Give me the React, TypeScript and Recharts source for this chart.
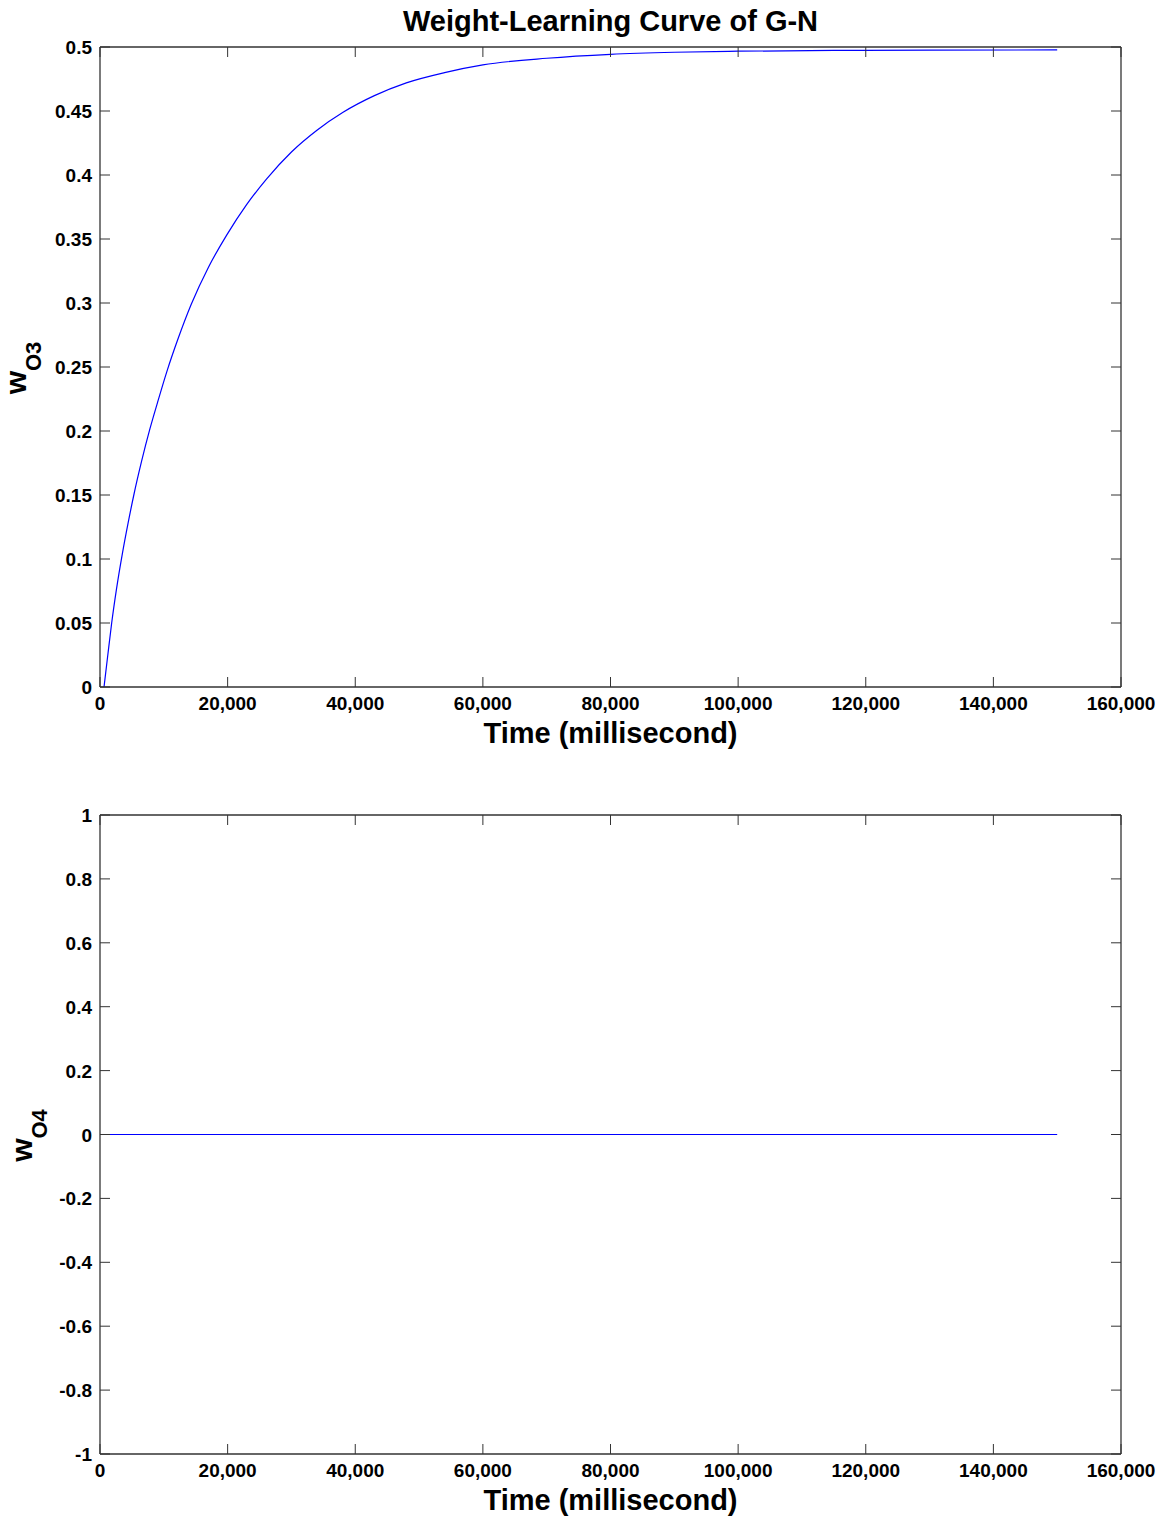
import React from 'react';
import { LineChart, Line, XAxis, YAxis } from 'recharts';

// ---- data ----
const timeTicks = [0, 20000, 40000, 60000, 80000, 100000, 120000, 140000, 160000];
const timeTickLabels = ['0', '20,000', '40,000', '60,000', '80,000', '100,000', '120,000', '140,000', '160,000'];

const wO3Ticks = [0, 0.05, 0.1, 0.15, 0.2, 0.25, 0.3, 0.35, 0.4, 0.45, 0.5];
const wO3TickLabels = ['0', '0.05', '0.1', '0.15', '0.2', '0.25', '0.3', '0.35', '0.4', '0.45', '0.5'];

const wO4Ticks = [-1, -0.8, -0.6, -0.4, -0.2, 0, 0.2, 0.4, 0.6, 0.8, 1];
const wO4TickLabels = ['-1', '-0.8', '-0.6', '-0.4', '-0.2', '0', '0.2', '0.4', '0.6', '0.8', '1'];

const o3Time = [630, 1200, 1830, 2600, 3500, 4400, 5300, 6500, 7840, 9000, 10450, 12300, 14300, 17000, 19850, 23000, 26120, 30000, 34000, 38090, 43000, 48000, 54000, 60000, 70000, 80000, 90000, 100000, 115000, 130000, 150000];
const o3Weight = [0, 0.024, 0.05, 0.077, 0.104, 0.128, 0.15, 0.176, 0.202, 0.222, 0.246, 0.273, 0.299, 0.328, 0.353, 0.377, 0.397, 0.418, 0.435, 0.449, 0.462, 0.472, 0.48, 0.486, 0.4912, 0.4943, 0.4959, 0.4967, 0.4973, 0.4976, 0.4977];

const o4Time = [0, 150000];
const o4Weight = [0, 0];

const title = 'Weight-Learning Curve of G-N';
const xLabel = 'Time (millisecond)';

// ---- tables for the library ----
const o3Data = o3Time.map((t, i) => ({ t, w: o3Weight[i] }));
const o4Data = o4Time.map((t, i) => ({ t, w: o4Weight[i] }));

const AXIS = '#333333';
const FONT = '"Liberation Sans", Arial, sans-serif';
const TICK_LEN = 10;

const labelFor = (ticks: number[], labels: string[], v: number, idx?: number) => {
  let i = ticks.findIndex((x) => Math.abs(x - v) < 1e-9);
  if (i < 0 && idx !== undefined) i = idx;
  return labels[i] ?? String(v);
};

const bottomTick = (ticks: number[], labels: string[]) => (props: any) => {
  const { x, y, payload } = props;
  return (
    <text x={x} y={y + 23} textAnchor="middle" fontFamily={FONT} fontWeight="bold" fontSize={19} fill="#000">
      {labelFor(ticks, labels, payload.value, payload.index)}
    </text>
  );
};

const leftTick = (ticks: number[], labels: string[]) => (props: any) => {
  const { x, y, payload } = props;
  return (
    <text x={x - 8} y={y} dy={7} textAnchor="end" fontFamily={FONT} fontWeight="bold" fontSize={19} fill="#000">
      {labelFor(ticks, labels, payload.value, payload.index)}
    </text>
  );
};

const emptyTick = () => <g />;

const yLabelContent = (sub: string, baseX: number) => (props: any) => {
  const vb = props.viewBox || {};
  const cy = vb.y + vb.height / 2 + 1;
  return (
    <text
      x={baseX}
      y={cy}
      transform={`rotate(-90 ${baseX} ${cy})`}
      textAnchor="middle"
      fontFamily={FONT}
      fontWeight="bold"
      fill="#000"
    >
      <tspan fontSize={30}>w</tspan>
      <tspan fontSize={22} dy={15}>{sub}</tspan>
    </text>
  );
};

const xLabelContent = (props: any) => {
  const vb = props.viewBox || {};
  return (
    <text x={vb.x + vb.width / 2} y={vb.y + 56} textAnchor="middle" fontFamily={FONT} fontWeight="bold" fontSize={29} fill="#000">
      {xLabel}
    </text>
  );
};

const titleContent = (props: any) => {
  const vb = props.viewBox || {};
  return (
    <text x={vb.x + vb.width / 2} y={31} textAnchor="middle" fontFamily={FONT} fontWeight="bold" fontSize={29} fill="#000">
      {title}
    </text>
  );
};

type PanelProps = {
  data: { t: number; w: number }[];
  height: number;
  marginTop: number;
  marginBottom: number;
  yTicks: number[];
  yLabels: string[];
  yDomain: [number, number];
  sub: string;
  labelX: number;
  showTitle: boolean;
};

const axisLineStyle = { stroke: AXIS, strokeWidth: 1.3 };
const tickLineStyle = { stroke: AXIS, strokeWidth: 1 };

const Panel = ({ data, height, marginTop, marginBottom, yTicks, yLabels, yDomain, sub, labelX, showTitle }: PanelProps) => (
  <LineChart width={1171} height={height} data={data} margin={{ top: marginTop - 1, right: 49, left: 0, bottom: marginBottom }}>
    <XAxis
      xAxisId="b"
      dataKey="t"
      type="number"
      domain={[0, 160000]}
      ticks={timeTicks}
      interval={0}
      height={60}
      tickSize={-TICK_LEN}
      tickMargin={TICK_LEN}
      tick={bottomTick(timeTicks, timeTickLabels)}
      axisLine={axisLineStyle}
      tickLine={tickLineStyle}
      allowDataOverflow
      label={{ content: xLabelContent }}
    />
    <XAxis
      xAxisId="t"
      orientation="top"
      dataKey="t"
      type="number"
      domain={[0, 160000]}
      ticks={timeTicks}
      interval={0}
      height={1}
      tickSize={-TICK_LEN}
      tickMargin={0}
      tick={emptyTick}
      axisLine={axisLineStyle}
      tickLine={tickLineStyle}
      allowDataOverflow
      label={showTitle ? { content: titleContent } : undefined}
    />
    <YAxis
      yAxisId="l"
      type="number"
      domain={yDomain}
      ticks={yTicks}
      interval={0}
      width={100}
      tickSize={-TICK_LEN}
      tickMargin={TICK_LEN}
      tick={leftTick(yTicks, yLabels)}
      axisLine={axisLineStyle}
      tickLine={tickLineStyle}
      allowDataOverflow
      label={{ content: yLabelContent(sub, labelX) }}
    />
    <YAxis
      yAxisId="r"
      orientation="right"
      type="number"
      domain={yDomain}
      ticks={yTicks}
      interval={0}
      width={1}
      tickSize={-TICK_LEN}
      tickMargin={0}
      tick={emptyTick}
      axisLine={axisLineStyle}
      tickLine={tickLineStyle}
      allowDataOverflow
    />
    <Line
      xAxisId="t"
      yAxisId="r"
      type="monotone"
      dataKey="w"
      stroke="none"
      strokeOpacity={0}
      dot={false}
      activeDot={false}
      legendType="none"
      isAnimationActive={false}
    />
    <Line
      xAxisId="b"
      yAxisId="l"
      type="monotone"
      dataKey="w"
      stroke="#0000ff"
      strokeWidth={1.2}
      dot={false}
      activeDot={false}
      isAnimationActive={false}
    />
  </LineChart>
);

export default function App() {
  return (
    <div style={{ position: 'absolute', left: 0, top: 0, width: 1171, height: 1517, background: '#fff' }}>
      <div style={{ position: 'absolute', left: 0, top: 0 }}>
        <Panel
          data={o3Data}
          height={760}
          marginTop={47}
          marginBottom={13}
          yTicks={wO3Ticks}
          yLabels={wO3TickLabels}
          yDomain={[0, 0.5]}
          sub="O3"
          labelX={26}
          showTitle
        />
      </div>
      <div style={{ position: 'absolute', left: 0, top: 760 }}>
        <Panel
          data={o4Data}
          height={757}
          marginTop={55}
          marginBottom={3}
          yTicks={wO4Ticks}
          yLabels={wO4TickLabels}
          yDomain={[-1, 1]}
          sub="O4"
          labelX={32}
          showTitle={false}
        />
      </div>
    </div>
  );
}
